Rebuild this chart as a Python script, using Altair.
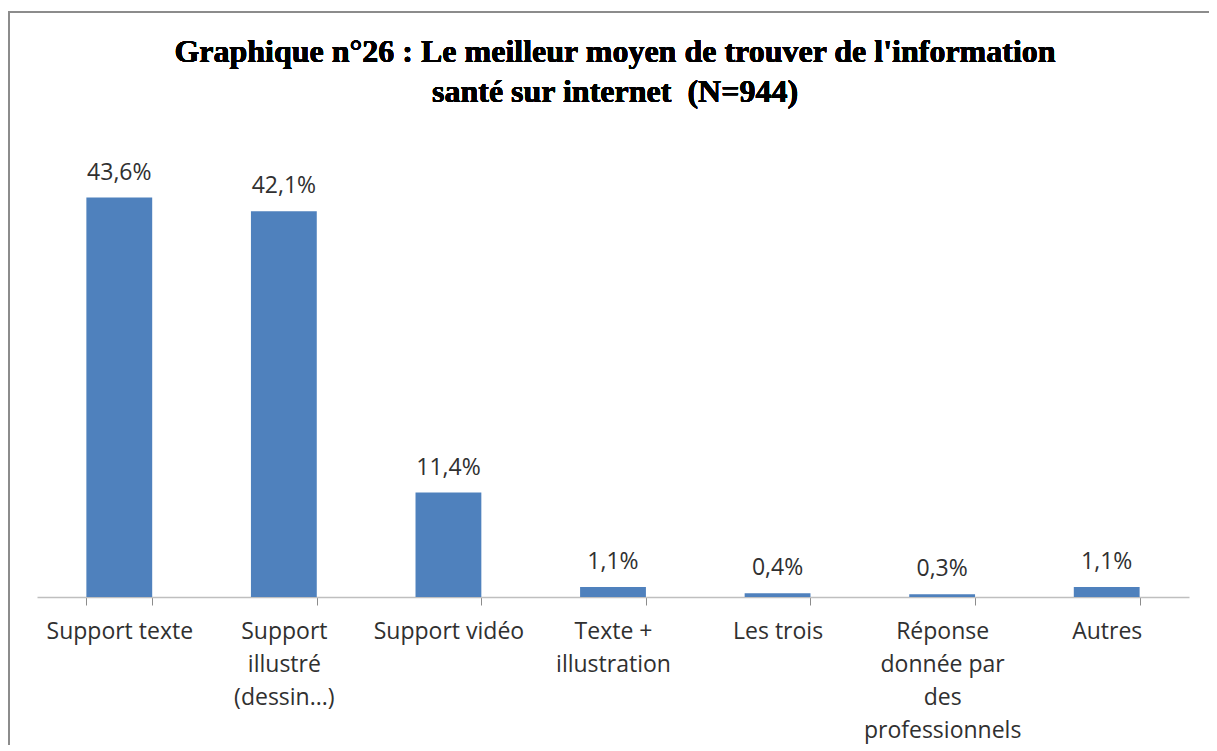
import altair as alt
import pandas as pd

categories = [
    "Support texte",
    "Support|illustré|(dessin...)",
    "Support vidéo",
    "Texte +|illustration",
    "Les trois",
    "Réponse|donnée par|des|professionnels",
    "Autres",
]
values = [43.6, 42.1, 11.4, 1.1, 0.4, 0.3, 1.1]
value_labels = ["43,6%", "42,1%", "11,4%", "1,1%", "0,4%", "0,3%", "1,1%"]
title_lines = [
    "Graphique n°26 : Le meilleur moyen de trouver de l'information",
    "santé sur internet\u00a0\u00a0(N=944)",
]

df = pd.DataFrame({"cat": categories, "val": values, "lab": value_labels})

x = alt.X(
    "cat:N",
    sort=categories,
    scale=alt.Scale(paddingInner=0.6, paddingOuter=0.3),
    axis=alt.Axis(
        title=None,
        labelExpr="split(datum.label, '|')",
        labelAngle=0,
        labelFont="Open Sans",
        labelFontSize=23,
        labelColor="#303030",
        labelLineHeight=33,
        labelPadding=15,
        labelBaseline="top",
        tickBand="extent",
        tickSize=8,
        tickColor="#8c8c8c",
        domainColor="#bfbfbf",
        domainWidth=1.5,
        labelLimit=300,
        grid=False,
    ),
)
y = alt.Y("val:Q", scale=alt.Scale(domain=[0, 50]), axis=None)

bars = alt.Chart(df).mark_bar(color="#4F81BD").encode(x=x, y=y)
texts = alt.Chart(df).mark_text(
    font="Open Sans", fontSize=23, color="#303030", baseline="bottom", dy=-13
).encode(x=x, y=y, text="lab:N")

title = alt.Chart(df).mark_text(
    font="Liberation Serif",
    fontSize=32,
    fontWeight="bold",
    color="#000000",
    align="center",
    baseline="middle",
    lineHeight=40,
).encode(x=alt.value(578), y=alt.value(-87.5), text=alt.value(title_lines))

border = alt.Chart(df).mark_rect(
    fill=None, stroke="#8c8c8c", strokeWidth=2, clip=False
).encode(
    x=alt.value(-28), x2=alt.value(1400), y=alt.value(-127), y2=alt.value(900)
)

chart = (
    alt.layer(border, bars, texts, title)
    .properties(
        width=1152,
        height=458,
        autosize=alt.AutoSizeParams(type="none"),
        padding={"left": 29, "top": 131, "right": 20, "bottom": 148},
    )
    .configure_view(stroke=None)
)

chart.save("out.html", embed_options={"renderer": "svg", "actions": False})
